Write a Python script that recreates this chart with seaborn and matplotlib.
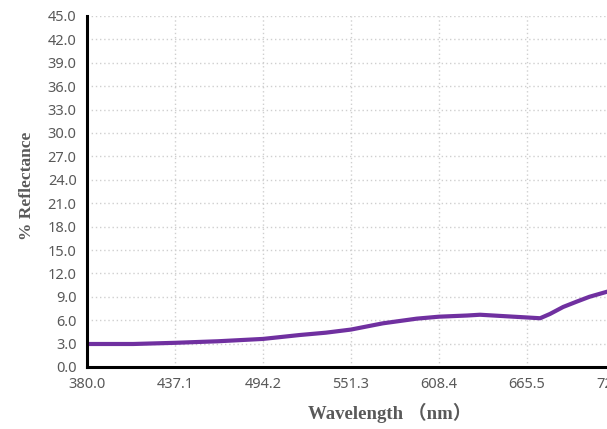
import matplotlib
matplotlib.use("Agg")
import matplotlib.pyplot as plt
import pandas as pd
import seaborn as sns

# reflectance spectrum
wavelength = [380.0, 410.0, 437.1, 465.0, 494.2, 518.0, 535.0, 551.3, 572.0,
              594.0, 608.4, 626.6, 635.0, 648.0, 665.5, 674.0, 680.4, 689.0,
              698.0, 706.0, 717.4, 730.0]
reflectance = [2.95, 2.95, 3.1, 3.3, 3.6, 4.1, 4.4, 4.8, 5.6,
               6.2, 6.45, 6.6, 6.7, 6.55, 6.35, 6.25, 6.8, 7.7,
               8.4, 9.0, 9.65, 10.2]
x_ticks = [380.0, 437.1, 494.2, 551.3, 608.4, 665.5, 722.6, 779.7]
y_ticks = [0.0, 3.0, 6.0, 9.0, 12.0, 15.0, 18.0, 21.0, 24.0, 27.0, 30.0,
           33.0, 36.0, 39.0, 42.0, 45.0]

df = pd.DataFrame({"Wavelength": wavelength, "Reflectance": reflectance})

sns.set_style("white")
fig = plt.figure(figsize=(6.07, 4.29), dpi=100)
# the chart is cropped on the right, so the axes run past the figure edge
ax = fig.add_axes([87 / 607, 62 / 429, 616 / 607, 351 / 429])

sns.lineplot(data=df, x="Wavelength", y="Reflectance", ax=ax,
             color="#7030A0", linewidth=3.0, solid_joinstyle="round",
             solid_capstyle="round")

ax.set_xlim(x_ticks[0], x_ticks[-1])
ax.set_ylim(y_ticks[0], y_ticks[-1])
ax.set_xticks(x_ticks)
ax.set_yticks(y_ticks)
ax.set_xticklabels([f"{v:.1f}" for v in x_ticks])
ax.set_yticklabels([f"{v:.1f}" for v in y_ticks])
ax.grid(True, linestyle=(0, (1, 2)), color="#cfcfcf", linewidth=1.0)

for side in ("top", "right"):
    ax.spines[side].set_visible(False)
for side in ("left", "bottom"):
    ax.spines[side].set_color("black")
    ax.spines[side].set_linewidth(2.2)

ax.tick_params(axis="both", direction="inout", length=7, width=2.2,
               color="black", labelsize=10.5, labelcolor="#595959", pad=4)
for lab in ax.get_xticklabels() + ax.get_yticklabels():
    lab.set_family(["Noto Sans", "DejaVu Sans"])

ax.set_xlabel("")
ax.set_ylabel("")
fig.text(390 / 607, 1 - 413 / 429, "Wavelength （nm）", ha="center", va="center",
         fontsize=13.5, fontweight="bold", color="#595959",
         family=["Liberation Serif", "Noto Sans CJK SC"])
fig.text(27 / 607, 1 - 186 / 429, "% Reflectance", ha="center", va="center",
         rotation=90, fontsize=12.5, fontweight="bold", color="#595959",
         family=["Liberation Serif", "Noto Sans CJK SC"])

fig.savefig("out.png", dpi=100)
